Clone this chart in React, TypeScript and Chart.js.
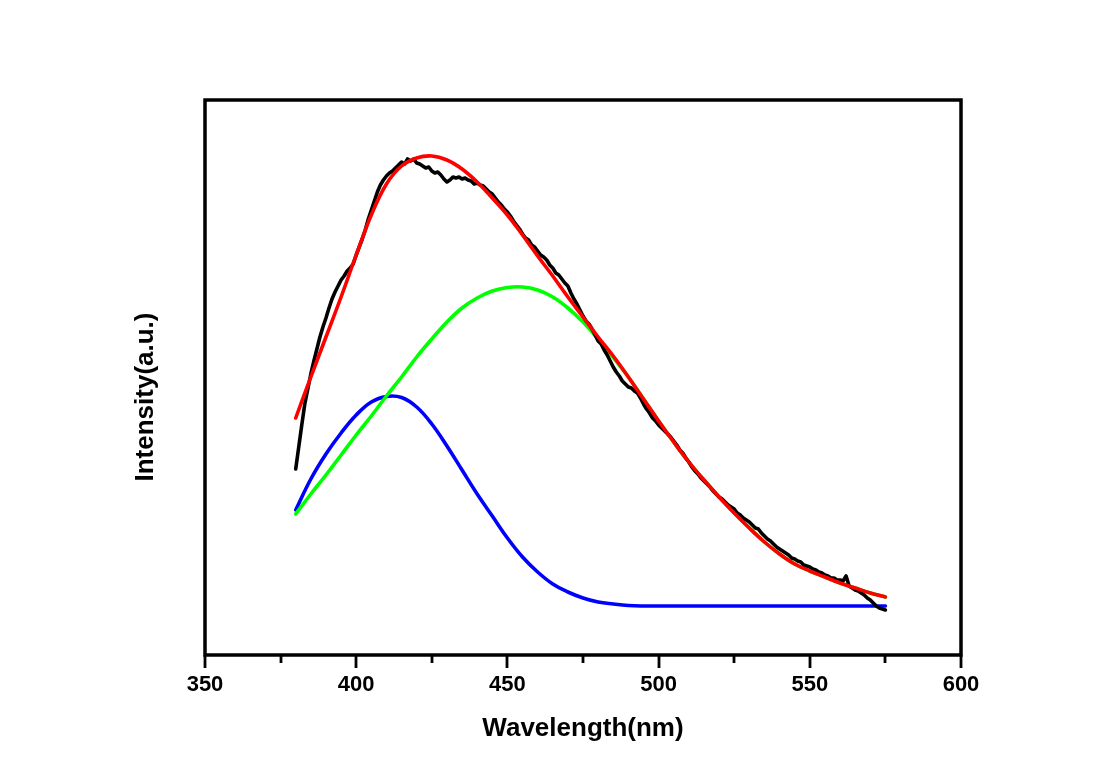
import React, { useEffect, useRef } from "react";
import { Chart, registerables } from "chart.js";

Chart.register(...registerables);

// ---- axis ----
const xMin = 350;
const xMax = 600;
const majorTicks = [350, 400, 450, 500, 550, 600];
const minorTicks = [375, 425, 475, 525, 575];
const xTitle = "Wavelength(nm)";
const yTitle = "Intensity(a.u.)";

// ---- fitted curves (sampled every 5 nm) ----
const fitWavelengths = [
  380, 385, 390, 395, 400, 405, 410, 415, 420, 425, 430, 435, 440, 445, 450, 455, 460, 465, 470, 475,
  480, 485, 490, 495, 500, 505, 510, 515, 520, 525, 530, 535, 540, 545, 550, 555, 560, 565, 570, 575,
];
const cumulativeFit = [
  237, 278, 318, 358, 400, 440, 471, 489, 497, 499, 495, 486, 473, 457, 440, 420, 399, 379, 358, 338,
  318, 299, 278, 256, 234, 213, 193, 175, 158, 142, 127, 113, 101, 91, 84, 78, 72, 67, 62, 58,
];
const peak1 = [
  145, 176, 201, 222, 240, 253, 258.5, 257.5, 248, 231, 209, 185, 161, 139, 117, 98, 83, 71, 63, 57,
  53, 51, 49.5, 49, 49, 49, 49, 49, 49, 49, 49, 49, 49, 49, 49, 49, 49, 49, 49, 49,
];
const peak2 = [
  141, 161, 180, 200, 220, 239, 259, 278, 298, 316, 333, 347, 357, 364, 367.5, 368, 365, 358, 347, 333,
  316, 297.5, 278, 256, 234, 213, 193, 175, 158, 142, 127, 113, 101, 91, 84, 78, 72, 67, 62, 58,
];

// ---- measured spectrum (1 nm steps, 380..575 nm) ----
const rawStart = 380;
const rawSpectrum = [
  186, 208, 230, 251, 266, 281, 294, 306, 318, 328,
  337, 347, 356, 363, 369, 375, 379, 384, 387, 391,
  400, 408, 416, 425, 436, 445, 454, 463, 470, 475,
  479, 482, 484, 487, 490, 493, 491, 496, 494, 496,
  492, 491, 489, 487, 488, 484, 482, 483, 480, 476,
  473, 475, 478, 477, 478, 476, 477, 475, 474, 471,
  472, 470, 469, 466, 463, 461, 457, 453, 450, 446,
  443, 439, 434, 430, 426, 421, 417, 415, 410, 408,
  404, 400, 398, 395, 390, 387, 382, 380, 376, 372,
  369, 362, 356, 351, 345, 339, 334, 331, 326, 320,
  314, 311, 305, 300, 294, 288, 283, 279, 274, 271,
  268, 267, 264, 262, 257, 251, 246, 242, 237, 234,
  230, 227, 224, 221, 218, 214, 210, 205, 202, 197,
  193, 188, 184, 181, 177, 174, 171, 168, 164, 161,
  158, 156, 153, 150, 148, 146, 142, 140, 137, 135,
  133, 130, 127, 126, 122, 119, 116, 114, 111, 108,
  106, 104, 102, 100, 97, 96, 94, 93, 90, 89,
  88, 86, 85, 83, 82, 80, 79, 77, 77, 75,
  75, 74, 79, 69, 67, 65, 64, 62, 60, 57,
  55, 52, 49, 47, 46, 45,
];

const FONT = '"Liberation Sans", Arial, Helvetica, sans-serif';

const framePlugin = {
  id: "framePlugin",
  afterDraw(chart: any) {
    const { ctx, chartArea: a, scales } = chart;
    const xs = scales.x;
    ctx.save();
    ctx.strokeStyle = "#000";
    ctx.lineWidth = 3.5;
    ctx.lineJoin = "miter";
    ctx.strokeRect(a.left, a.top, a.right - a.left, a.bottom - a.top);

    ctx.lineWidth = 2.8;
    ctx.lineCap = "butt";
    const tick = (v: number, len: number) => {
      const px = Math.round(xs.getPixelForValue(v));
      ctx.beginPath();
      ctx.moveTo(px, a.bottom);
      ctx.lineTo(px, a.bottom + len);
      ctx.stroke();
    };
    majorTicks.forEach((v) => tick(v, 13));
    minorTicks.forEach((v) => tick(v, 8));

    ctx.fillStyle = "#000";
    ctx.font = `bold 22px ${FONT}`;
    ctx.textAlign = "center";
    ctx.textBaseline = "middle";
    majorTicks.forEach((v) => {
      ctx.fillText(String(v), xs.getPixelForValue(v), a.bottom + 30);
    });

    ctx.font = `bold 26px ${FONT}`;
    ctx.fillText(xTitle, (a.left + a.right) / 2, 729);

    ctx.translate(146, 397);
    ctx.rotate(-Math.PI / 2);
    ctx.fillText(yTitle, 0, 0);
    ctx.restore();
  },
};

function toPoints(xs: number[], ys: number[]) {
  return ys.map((y, i) => ({ x: xs[i], y }));
}

export default function App() {
  const canvasRef = useRef<HTMLCanvasElement | null>(null);

  useEffect(() => {
    if (!canvasRef.current) return;
    const rawWavelengths = rawSpectrum.map((_, i) => rawStart + i);
    const chart = new Chart(canvasRef.current, {
      type: "line",
      data: {
        datasets: [
          {
            label: "Cumulative fit",
            data: toPoints(fitWavelengths, cumulativeFit),
            borderColor: "#ff0000",
            borderWidth: 3.6,
            tension: 0.4,
          },
          {
            label: "Measured",
            data: toPoints(rawWavelengths, rawSpectrum),
            borderColor: "#000000",
            borderWidth: 3.6,
            tension: 0,
          },
          {
            label: "Peak 2",
            data: toPoints(fitWavelengths, peak2),
            borderColor: "#00ff00",
            borderWidth: 3.6,
            tension: 0.4,
          },
          {
            label: "Peak 1",
            data: toPoints(fitWavelengths, peak1),
            borderColor: "#0000ff",
            borderWidth: 3.6,
            tension: 0.4,
          },
        ],
      },
      options: {
        responsive: false,
        animation: false,
        parsing: true,
        layout: { padding: { left: 205, top: 100, right: 138, bottom: 119 } },
        elements: {
          point: { radius: 0, hoverRadius: 0 },
          line: { borderJoinStyle: "round", borderCapStyle: "round", fill: false },
        },
        plugins: {
          legend: { display: false },
          tooltip: { enabled: false },
        },
        scales: {
          x: { type: "linear", min: xMin, max: xMax, display: false },
          y: { type: "linear", min: 0, max: 555, display: false },
        },
      },
      plugins: [framePlugin],
    });
    return () => chart.destroy();
  }, []);

  return (
    <div style={{ position: "absolute", left: 0, top: 0, width: 1099, height: 774, background: "#fff" }}>
      <canvas ref={canvasRef} width={1099} height={774} style={{ display: "block" }} />
    </div>
  );
}
